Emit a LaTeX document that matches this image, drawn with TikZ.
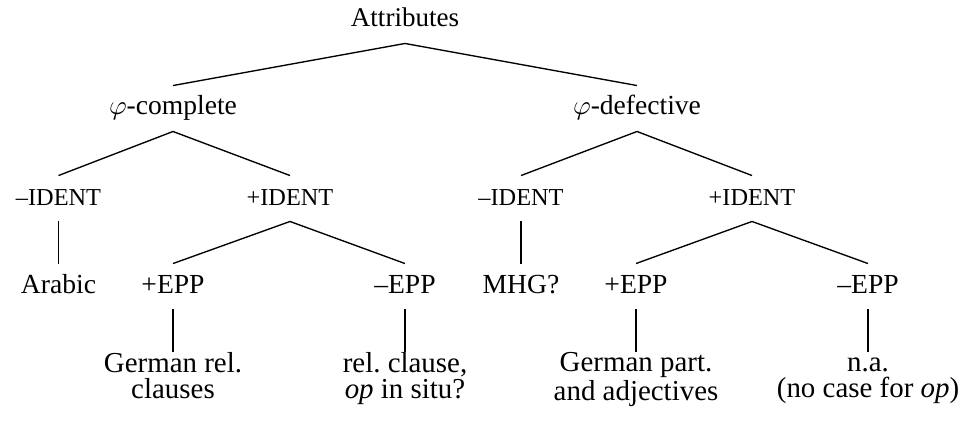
\documentclass[tikz,border=0pt]{standalone}
\usepackage{fontspec}
\setmainfont{Liberation Serif}
\frenchspacing
\newcommand{\leafstrut}{\rule{0pt}{7.2pt}}
\begin{document}
\begin{tikzpicture}[x=0.37pt,y=-0.37pt,
  lab/.style={inner sep=0pt, anchor=base, text height=10.7pt, text depth=5.9pt,
              font=\fontsize{10.2pt}{12pt}\selectfont},
  feat/.style={lab, font=\fontsize{9pt}{11pt}\selectfont},
  leaf/.style={inner sep=0pt, anchor=north, align=center,
               font=\fontsize{10.7pt}{9.6pt}\selectfont},
  branch/.style={line width=0.5pt}]
\useasboundingbox (0,0) rectangle (963,424);

% top level
\node[lab, font=\fontsize{10pt}{12pt}\selectfont] (root) at (405,27) {Attributes};
\node[lab] (comp) at (173,115) {$\varphi$-complete};
\node[lab] (defe) at (637,115) {$\varphi$-defective};

% identity feature
\node[feat] (cmI) at (58.5,205) {–IDENT};
\node[feat] (cpI) at (290,205) {+IDENT};
\node[feat] (dmI) at (521,205) {–IDENT};
\node[feat] (dpI) at (752,205) {+IDENT};

% EPP feature
\node[lab] (arab) at (58.5,293) {Arabic};
\node[lab] (cpE) at (173,293) {+EPP};
\node[lab] (cmE) at (405,293) {–EPP};
\node[lab] (mhg) at (521,293) {MHG?};
\node[lab] (dpE) at (636,293) {+EPP};
\node[lab] (dmE) at (868,293) {–EPP};

% leaves (top of first line sits where the branch ends)
\node[leaf] (l1) at (173,351.5) {\leafstrut German rel.\\clauses};
\node[leaf] (l2) at (405,351.5) {\leafstrut rel. clause,\\\textit{op} in situ?};
\node[leaf] (l3) at (636,351.5) {\leafstrut German part.\\and adjectives};
\node[leaf] (l4) at (868,351.5) {\leafstrut n.a.\\(no case for \textit{op})};

% branches
\draw[branch] (comp.north) -- (root.south) -- (defe.north);
\draw[branch] (cmI.north) -- (comp.south) -- (cpI.north);
\draw[branch] (dmI.north) -- (defe.south) -- (dpI.north);
\draw[branch] (cmI.south) -- (arab.north);
\draw[branch] (cpE.north) -- (cpI.south) -- (cmE.north);
\draw[branch] (dmI.south) -- (mhg.north);
\draw[branch] (dpE.north) -- (dpI.south) -- (dmE.north);
\draw[branch] (cpE.south) -- (l1.north);
\draw[branch] (cmE.south) -- (l2.north);
\draw[branch] (dpE.south) -- (l3.north);
\draw[branch] (dmE.south) -- (l4.north);
\end{tikzpicture}
\end{document}
